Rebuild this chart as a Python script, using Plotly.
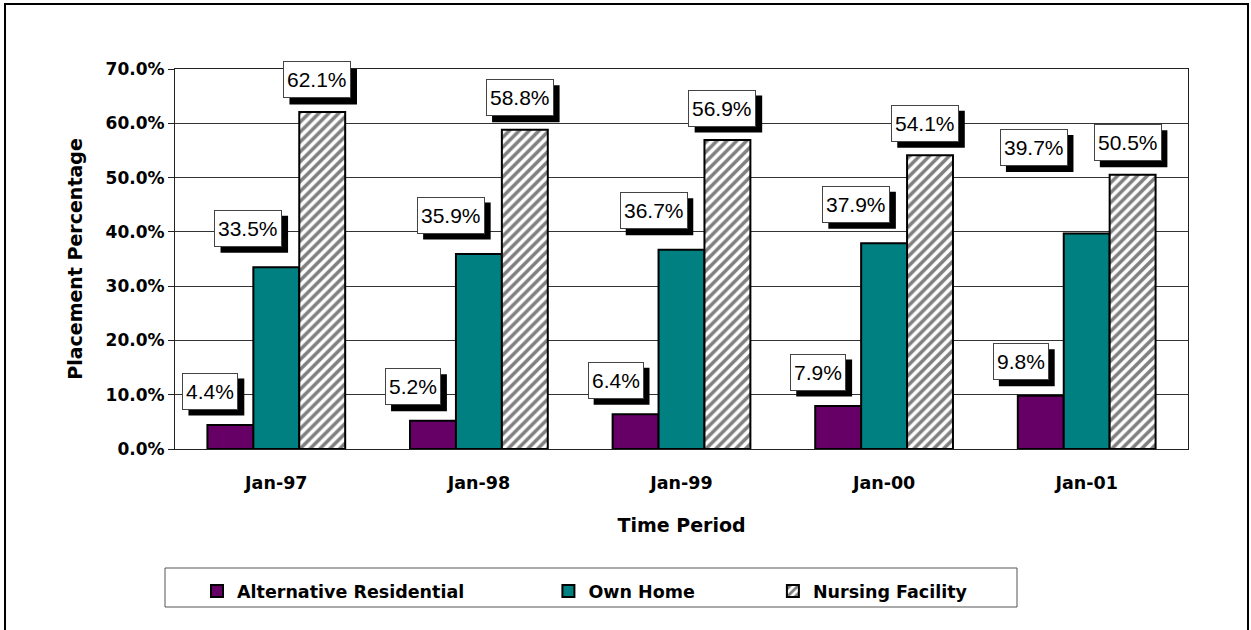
import plotly.graph_objects as go

categories = ["Jan-97", "Jan-98", "Jan-99", "Jan-00", "Jan-01"]
alt_res = [4.4, 5.2, 6.4, 7.9, 9.8]
own_home = [33.5, 35.9, 36.7, 37.9, 39.7]
nursing = [62.1, 58.8, 56.9, 54.1, 50.5]
series_names = ["Alternative Residential", "Own Home", "Nursing Facility"]
y_ticks = [0, 10, 20, 30, 40, 50, 60, 70]

REG = "Liberation Sans, Arial, sans-serif"
BOLD = "DejaVu Sans, sans-serif"

fig = go.Figure()
fig.add_trace(go.Bar(name=series_names[0] + "\u00a0" * 13, x=categories, y=alt_res,
                     marker=dict(color="#660066", line=dict(color="black", width=2))))
fig.add_trace(go.Bar(name=series_names[1] + "\u00a0" * 12, x=categories, y=own_home,
                     marker=dict(color="#008080", line=dict(color="black", width=2))))
fig.add_trace(go.Bar(name=series_names[2], x=categories, y=nursing,
                     marker=dict(color="white", line=dict(color="black", width=2),
                                 pattern=dict(shape="/", fgcolor="black", bgcolor="white",
                                              size=7, solidity=0.5))))

L, R, T, B = 175, 1251 - 1188, 69, 630 - 449
W = 1251 - L - R
H = 630 - T - B
bar_w = W / len(categories) * (1 - 0.32) / 3

# label box geometry (style only)
FS = 21
CW = {"d": 0.556 * FS, ".": 0.278 * FS, "%": 0.889 * FS}


def text_w(s):
    return sum(CW["d"] if ch.isdigit() else CW.get(ch, 0.556 * FS) for ch in s)


BOX_H = 37
series = [(alt_res, -1, -20, 34), (own_home, 0, -28, 39), (nursing, 1, -5, 32)]
for vals, k, lx, ly in series:
    for i, (c, v) in enumerate(zip(categories, vals)):
        txt = f"{v:.1f}%"
        special = vals is own_home and i == len(categories) - 1
        tw = text_w(txt)
        bw = tw + 8
        cx = k * bar_w + lx + (-25 if special else 0)
        cy = ly + (47 if special else 0)
        fig.add_shape(type="rect", xref="x", yref="y", xsizemode="pixel", ysizemode="pixel",
                      xanchor=i, yanchor=v,
                      x0=cx - bw / 2 + 6, x1=cx + bw / 2 + 6,
                      y0=cy - BOX_H / 2 - 6, y1=cy + BOX_H / 2 - 6,
                      fillcolor="black", line=dict(width=0), layer="above")
        fig.add_annotation(x=c, y=v, xref="x", yref="y", text=txt, showarrow=False,
                           xshift=cx, yshift=cy, width=tw + 4, height=BOX_H - 4,
                           font=dict(family=REG, size=FS, color="black"),
                           bgcolor="white", bordercolor="#444444", borderwidth=1, borderpad=1)

# outer chart border
fig.add_shape(type="rect", xref="paper", yref="paper",
              x0=(5 - L) / W, x1=(1248 - L) / W, y0=(449 - 660) / H, y1=(449 - 4) / H,
              line=dict(color="black", width=2), fillcolor="rgba(0,0,0,0)", layer="below")
# legend frame
fig.add_shape(type="rect", xref="paper", yref="paper",
              x0=(165 - L) / W, x1=(1017 - L) / W, y0=(449 - 607) / H, y1=(449 - 568) / H,
              line=dict(color="#555555", width=1), fillcolor="white", layer="below")

fig.update_layout(
    width=1251, height=630,
    margin=dict(l=L, r=R, t=T, b=B),
    paper_bgcolor="white", plot_bgcolor="white",
    barmode="group", bargap=0.32, bargroupgap=0,
    font=dict(family=BOLD, color="black"),
    showlegend=True,
    legend=dict(orientation="h", x=(197 - L) / W, y=(449 - 573) / H,
                xanchor="left", yanchor="top", borderwidth=0,
                bgcolor="rgba(0,0,0,0)",
                font=dict(family=BOLD, size=17.5, color="black", weight="bold")),
    xaxis=dict(type="category", showline=True, linecolor="#222222", linewidth=1, mirror=True,
               ticks="", ticklabelstandoff=18,
               tickfont=dict(family=BOLD, size=17.5, weight="bold"),
               title=dict(text="Time Period", standoff=26,
                          font=dict(family=BOLD, size=19, weight="bold"))),
    yaxis=dict(range=[0, 70], tickvals=y_ticks, ticktext=[f"{t:.1f}%" for t in y_ticks],
               showgrid=True, gridcolor="#333333", gridwidth=1,
               showline=True, linecolor="#222222", linewidth=1, mirror=True,
               ticks="outside", ticklen=6, tickcolor="#222222",
               tickfont=dict(family=BOLD, size=17, weight="bold"),
               title=dict(text="Placement Percentage", standoff=17,
                          font=dict(family=BOLD, size=19, weight="bold"))),
)

fig.write_html("out.html")
